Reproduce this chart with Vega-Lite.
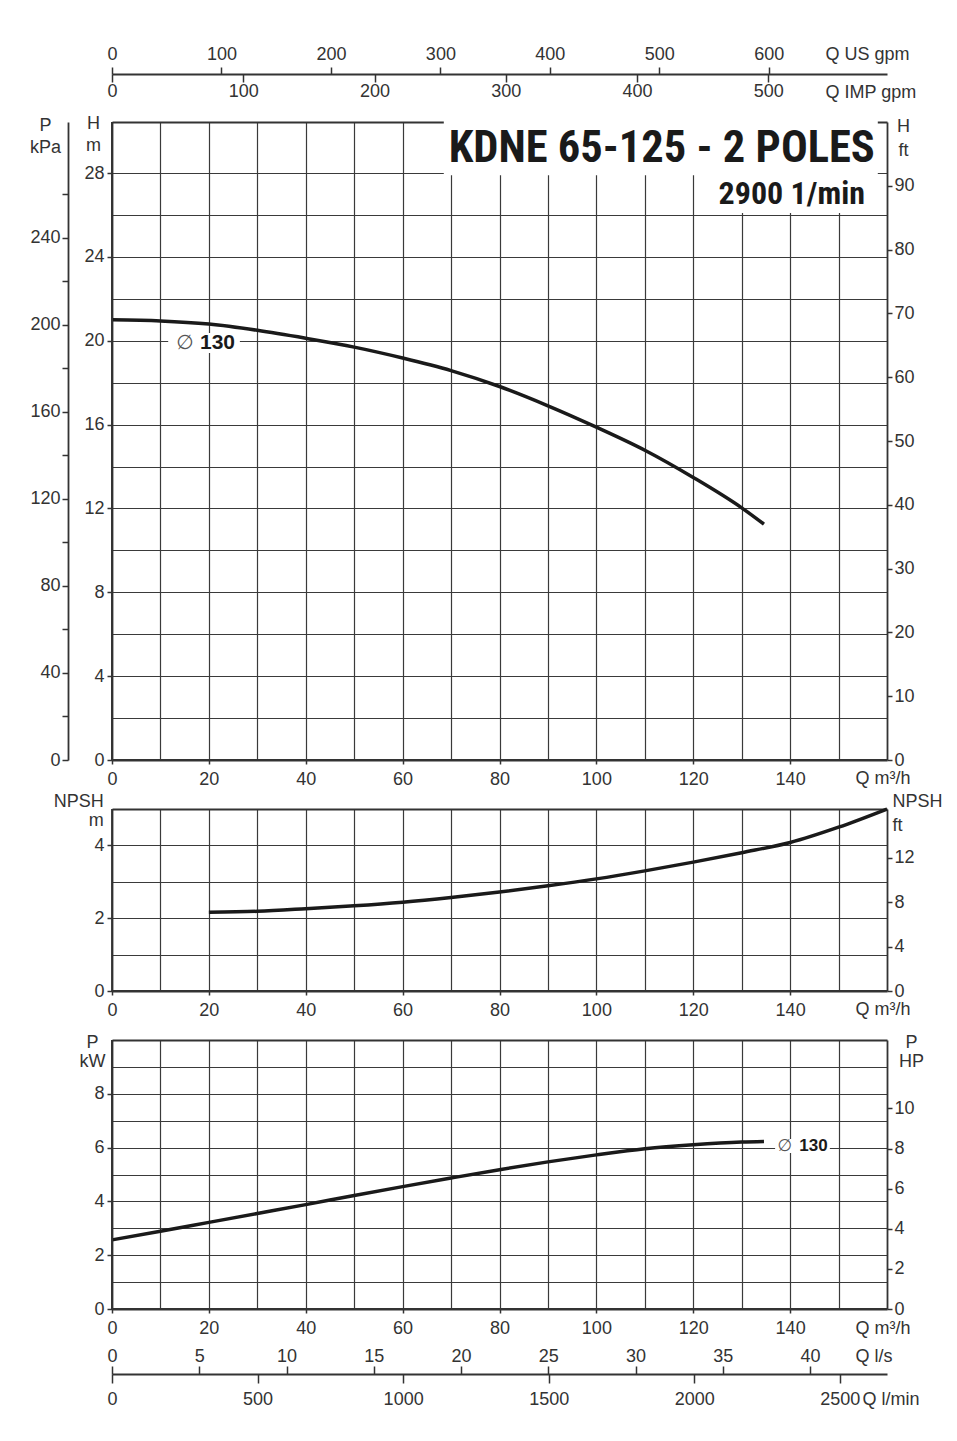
{
  "$schema": "https://vega.github.io/schema/vega-lite/v6.json",
  "background": "white",
  "padding": {"left": 29, "top": 45, "right": 5, "bottom": 5},
  "width": 775,
  "height": 1187,
  "data": {"values": [{}]},
  "config": {
    "font": "Liberation Sans, Arial, sans-serif",
    "view": {"stroke": null},
    "axis": {
      "labelFont": "Liberation Sans, Arial, sans-serif",
      "labelFontSize": 18,
      "labelColor": "#333333",
      "titleFont": "Liberation Sans, Arial, sans-serif",
      "titleFontSize": 18,
      "titleFontWeight": "normal",
      "titleColor": "#333333",
      "tickColor": "#333333",
      "tickWidth": 1.5,
      "domainColor": "#333333",
      "domainWidth": 1.8,
      "gridColor": "#3a3a3a",
      "gridWidth": 1.2,
      "gridOpacity": 1,
      "labelFlush": false,
      "labelOverlap": false,
      "labelBound": false
    }
  },
  "datasets": {
    "head": [
      {"Q": 0, "H": 21.0}, {"Q": 10, "H": 20.95}, {"Q": 20, "H": 20.8}, {"Q": 30, "H": 20.5},
      {"Q": 40, "H": 20.12}, {"Q": 50, "H": 19.7}, {"Q": 60, "H": 19.18}, {"Q": 70, "H": 18.58},
      {"Q": 80, "H": 17.82}, {"Q": 90, "H": 16.9}, {"Q": 100, "H": 15.88}, {"Q": 110, "H": 14.78},
      {"Q": 120, "H": 13.48}, {"Q": 130, "H": 12.03}, {"Q": 134.6, "H": 11.25}
    ],
    "npsh": [
      {"Q": 20, "N": 2.16}, {"Q": 30, "N": 2.19}, {"Q": 40, "N": 2.26}, {"Q": 50, "N": 2.34},
      {"Q": 60, "N": 2.44}, {"Q": 70, "N": 2.57}, {"Q": 80, "N": 2.72}, {"Q": 90, "N": 2.89},
      {"Q": 100, "N": 3.08}, {"Q": 110, "N": 3.3}, {"Q": 120, "N": 3.54}, {"Q": 130, "N": 3.8},
      {"Q": 140, "N": 4.08}, {"Q": 150, "N": 4.5}, {"Q": 160, "N": 5.0}
    ],
    "power": [
      {"Q": 0, "P": 2.57}, {"Q": 10, "P": 2.89}, {"Q": 20, "P": 3.22}, {"Q": 30, "P": 3.55},
      {"Q": 40, "P": 3.88}, {"Q": 50, "P": 4.22}, {"Q": 60, "P": 4.55}, {"Q": 70, "P": 4.87},
      {"Q": 80, "P": 5.18}, {"Q": 90, "P": 5.47}, {"Q": 100, "P": 5.73}, {"Q": 110, "P": 5.96},
      {"Q": 120, "P": 6.11}, {"Q": 130, "P": 6.21}, {"Q": 134.6, "P": 6.23}
    ]
  },
  "resolve": {"scale": {"x": "independent", "y": "independent"}},
  "layer": [
    {
      "data": {"values": [
        {"Q1": 68.5, "Q2": 158.1, "H1": 27.9, "H2": 30.6},
        {"Q1": 123.4, "Q2": 158.1, "H1": 26.1, "H2": 27.95},
        {"Q1": 11.6, "Q2": 26.4, "H1": 19.42, "H2": 20.37}
      ]},
      "mark": {"type": "rect", "color": "white"},
      "encoding": {
        "x": {"field": "Q1", "type": "quantitative", "scale": {"domain": [0, 160], "nice": false, "zero": false},
          "axis": {"values": [10, 20, 30, 40, 50, 60, 70, 80, 90, 100, 110, 120, 130, 140, 150], "orient": "top", "offset": 0, "grid": true, "labels": false, "ticks": false, "domain": true, "title": null}},
        "x2": {"field": "Q2"},
        "y": {"field": "H1", "type": "quantitative", "scale": {"domain": [0, 30.44], "range": [638, 0], "nice": false, "zero": false},
          "axis": {"values": [2, 4, 6, 8, 10, 12, 14, 16, 18, 20, 22, 24, 26, 28], "grid": true, "labels": false, "ticks": false, "domain": false, "title": null}},
        "y2": {"field": "H2"}
      }
    },
    {
      "data": {"name": "head"},
      "mark": {"type": "line", "color": "#1a1a1a", "strokeWidth": 3.5, "interpolate": "monotone"},
      "encoding": {
        "x": {"field": "Q", "type": "quantitative", "scale": {"domain": [0, 160], "nice": false, "zero": false},
          "axis": {"values": [0, 20, 40, 60, 80, 100, 120, 140], "orient": "bottom", "offset": -549, "tickSize": 4, "labelPadding": 6, "domain": true, "grid": false,
            "title": "Q m³/h", "titleAngle": 0, "titleAlign": "left", "titleBaseline": "alphabetic", "titleX": 743, "titleY": 23}},
        "y": {"field": "H", "type": "quantitative", "scale": {"domain": [0, 30.44], "range": [638, 0], "nice": false, "zero": false},
          "axis": {"values": [0, 4, 8, 12, 16, 20, 24, 28], "orient": "left", "tickSize": 5, "labelPadding": 3, "domain": true, "grid": false,
            "title": ["H", "m"], "titleAngle": 0, "titleAlign": "center", "titleBaseline": "alphabetic", "titleX": -19, "titleY": 6.3, "titleLineHeight": 22.5}}
      }
    },
    {
      "data": {"values": [{"Q": 157.5, "H": 28.52, "label": "KDNE 65-125 - 2 POLES"}]},
      "mark": {"type": "text", "font": "Liberation Sans Narrow, Roboto Condensed, DejaVu Sans Condensed, sans-serif", "fontWeight": "bold", "fontSize": 44.5, "align": "right", "baseline": "alphabetic", "color": "#1a1a1a"},
      "encoding": {
        "x": {"field": "Q", "type": "quantitative", "scale": {"domain": [0, 160], "nice": false, "zero": false}, "axis": null},
        "y": {"field": "H", "type": "quantitative", "scale": {"domain": [0, 30.44], "range": [638, 0], "nice": false, "zero": false}, "axis": null},
        "text": {"field": "label"}
      }
    },
    {
      "data": {"values": [{"Q": 155.45, "H": 26.53, "label": "2900 1/min"}]},
      "mark": {"type": "text", "font": "Liberation Sans Narrow, Roboto Condensed, DejaVu Sans Condensed, sans-serif", "fontWeight": "bold", "fontSize": 32, "align": "right", "baseline": "alphabetic", "color": "#1a1a1a"},
      "encoding": {
        "x": {"field": "Q", "type": "quantitative", "scale": {"domain": [0, 160], "nice": false, "zero": false}, "axis": null},
        "y": {"field": "H", "type": "quantitative", "scale": {"domain": [0, 30.44], "range": [638, 0], "nice": false, "zero": false}, "axis": null},
        "text": {"field": "label"}
      }
    },
    {
      "data": {"values": [{"Q": 15.07, "H": 19.88, "label": "∅"}]},
      "mark": {"type": "text", "font": "DejaVu Sans, sans-serif", "fontSize": 20, "align": "center", "baseline": "middle", "color": "#555555"},
      "encoding": {
        "x": {"field": "Q", "type": "quantitative", "scale": {"domain": [0, 160], "nice": false, "zero": false}, "axis": null},
        "y": {"field": "H", "type": "quantitative", "scale": {"domain": [0, 30.44], "range": [638, 0], "nice": false, "zero": false}, "axis": null},
        "text": {"field": "label"}
      }
    },
    {
      "data": {"values": [{"Q": 18.17, "H": 19.88, "label": "130"}]},
      "mark": {"type": "text", "font": "Liberation Sans, Arial, sans-serif", "fontWeight": "bold", "fontSize": 21, "align": "left", "baseline": "middle", "color": "#1a1a1a"},
      "encoding": {
        "x": {"field": "Q", "type": "quantitative", "scale": {"domain": [0, 160], "nice": false, "zero": false}, "axis": null},
        "y": {"field": "H", "type": "quantitative", "scale": {"domain": [0, 30.44], "range": [638, 0], "nice": false, "zero": false}, "axis": null},
        "text": {"field": "label"}
      }
    },
    {
      "mark": {"type": "rule", "color": "#333333", "strokeWidth": 1.8},
      "encoding": {
        "x": {"datum": 0, "type": "quantitative", "scale": {"domain": [0, 708], "nice": false, "zero": false},
          "axis": {"values": [0, 100, 200, 300, 400, 500, 600], "orient": "top", "offset": 48, "tickSize": 7, "labelPadding": 4, "domain": true, "grid": false,
            "title": "Q US gpm", "titleAngle": 0, "titleAlign": "left", "titleBaseline": "alphabetic", "titleX": 713, "titleY": -15}},
        "y": {"datum": 0, "type": "quantitative", "scale": {"domain": [0, 30.44], "range": [638, 0], "nice": false, "zero": false}, "axis": null},
        "y2": {"datum": 30.44}
      }
    },
    {
      "mark": {"type": "rule", "color": "#333333", "strokeWidth": 1.8},
      "encoding": {
        "x": {"datum": 0, "type": "quantitative", "scale": {"domain": [0, 590.4], "nice": false, "zero": false},
          "axis": {"values": [0, 100, 200, 300, 400, 500], "orient": "bottom", "offset": -1235, "tickSize": 8, "labelPadding": 0, "domain": false, "grid": false,
            "title": "Q IMP gpm", "titleAngle": 0, "titleAlign": "left", "titleBaseline": "alphabetic", "titleX": 713, "titleY": 23}},
        "y": {"datum": 0, "type": "quantitative", "scale": {"domain": [0, 30.44], "range": [638, 0], "nice": false, "zero": false}, "axis": null},
        "y2": {"datum": 30.44}
      }
    },
    {
      "mark": {"type": "rule", "color": "#333333", "strokeWidth": 1.8},
      "encoding": {
        "y": {"datum": 0, "type": "quantitative", "scale": {"domain": [0, 293.3], "range": [638, 0], "nice": false, "zero": false},
          "axis": {"values": [0, 20, 40, 60, 80, 100, 120, 140, 160, 180, 200, 220, 240, 260], "orient": "left", "offset": 44, "tickSize": 6, "labelPadding": 2, "domain": true, "grid": false,
            "labelExpr": "datum.value % 40 === 0 ? datum.label : ''",
            "title": ["P", "kPa"], "titleAngle": 0, "titleAlign": "center", "titleBaseline": "alphabetic", "titleX": -23, "titleY": 8, "titleLineHeight": 22.7}},
        "x": {"datum": 0, "type": "quantitative", "scale": {"domain": [0, 160], "nice": false, "zero": false}, "axis": null},
        "x2": {"datum": 160}
      }
    },
    {
      "mark": {"type": "rule", "color": "#333333", "strokeWidth": 1.8},
      "encoding": {
        "y": {"datum": 0, "type": "quantitative", "scale": {"domain": [0, 100], "range": [638, 0], "nice": false, "zero": false},
          "axis": {"values": [0, 10, 20, 30, 40, 50, 60, 70, 80, 90], "orient": "right", "tickSize": 5, "labelPadding": 2, "domain": true, "grid": false,
            "title": ["H", "ft"], "titleAngle": 0, "titleAlign": "center", "titleBaseline": "alphabetic", "titleX": 16, "titleY": 9.7, "titleLineHeight": 24.3}},
        "x": {"datum": 0, "type": "quantitative", "scale": {"domain": [0, 160], "nice": false, "zero": false}, "axis": null},
        "x2": {"datum": 160}
      }
    },
    {
      "data": {"name": "npsh"},
      "mark": {"type": "line", "color": "#1a1a1a", "strokeWidth": 3.5, "interpolate": "monotone"},
      "encoding": {
        "x": {"field": "Q", "type": "quantitative", "scale": {"domain": [0, 160], "nice": false, "zero": false},
          "axis": {"values": [0, 20, 40, 60, 80, 100, 120, 140], "orient": "bottom", "offset": -318, "tickSize": 4, "labelPadding": 6, "domain": true, "grid": false,
            "title": "Q m³/h", "titleAngle": 0, "titleAlign": "left", "titleBaseline": "alphabetic", "titleX": 743, "titleY": 23}},
        "y": {"field": "N", "type": "quantitative", "scale": {"domain": [0, 5], "range": [869, 687], "nice": false, "zero": false},
          "axis": {"values": [0, 2, 4], "orient": "left", "tickSize": 5, "labelPadding": 3, "domain": true, "grid": false,
            "title": ["NPSH", "m"], "titleAngle": 0, "titleAlign": "right", "titleBaseline": "alphabetic", "titleX": -8.7, "titleY": 684.7, "titleLineHeight": 19.3}}
      }
    },
    {
      "mark": {"type": "rule", "color": "#333333", "strokeWidth": 1.8},
      "encoding": {
        "x": {"datum": 0, "type": "quantitative", "scale": {"domain": [0, 160], "nice": false, "zero": false},
          "axis": {"values": [10, 20, 30, 40, 50, 60, 70, 80, 90, 100, 110, 120, 130, 140, 150], "orient": "top", "offset": -687, "grid": true, "labels": false, "ticks": false, "domain": true, "title": null}},
        "y": {"datum": 0, "type": "quantitative", "scale": {"domain": [0, 5], "range": [869, 687], "nice": false, "zero": false}, "axis": null},
        "y2": {"datum": 5}
      }
    },
    {
      "mark": {"type": "rule", "color": "#333333", "strokeWidth": 1.8},
      "encoding": {
        "y": {"datum": 0, "type": "quantitative", "scale": {"domain": [0, 5], "range": [869, 687], "nice": false, "zero": false},
          "axis": {"values": [1, 2, 3, 4], "grid": true, "labels": false, "ticks": false, "domain": false, "title": null}},
        "x": {"datum": 0, "type": "quantitative", "scale": {"domain": [0, 160], "nice": false, "zero": false}, "axis": null},
        "x2": {"datum": 160}
      }
    },
    {
      "mark": {"type": "rule", "color": "#333333", "strokeWidth": 1.8},
      "encoding": {
        "y": {"datum": 0, "type": "quantitative", "scale": {"domain": [0, 16.4], "range": [869, 687], "nice": false, "zero": false},
          "axis": {"values": [0, 4, 8, 12], "orient": "right", "tickSize": 5, "labelPadding": 2, "domain": true, "grid": false,
            "title": ["NPSH", "ft"], "titleAngle": 0, "titleAlign": "left", "titleBaseline": "alphabetic", "titleX": 5, "titleY": 684.7, "titleLineHeight": 24}},
        "x": {"datum": 0, "type": "quantitative", "scale": {"domain": [0, 160], "nice": false, "zero": false}, "axis": null},
        "x2": {"datum": 160}
      }
    },
    {
      "data": {"values": [{"Q1": 136.9, "Q2": 148.2, "P1": 5.8, "P2": 6.32}]},
      "mark": {"type": "rect", "color": "white"},
      "encoding": {
        "x": {"field": "Q1", "type": "quantitative", "scale": {"domain": [0, 160], "nice": false, "zero": false},
          "axis": {"values": [10, 20, 30, 40, 50, 60, 70, 80, 90, 100, 110, 120, 130, 140, 150], "orient": "top", "offset": -918, "grid": true, "labels": false, "ticks": false, "domain": true, "title": null}},
        "x2": {"field": "Q2"},
        "y": {"field": "P1", "type": "quantitative", "scale": {"domain": [0, 10], "range": [1187, 918], "nice": false, "zero": false},
          "axis": {"values": [1, 2, 3, 4, 5, 6, 7, 8, 9], "grid": true, "labels": false, "ticks": false, "domain": false, "title": null}},
        "y2": {"field": "P2"}
      }
    },
    {
      "data": {"name": "power"},
      "mark": {"type": "line", "color": "#1a1a1a", "strokeWidth": 3.5, "interpolate": "monotone"},
      "encoding": {
        "x": {"field": "Q", "type": "quantitative", "scale": {"domain": [0, 160], "nice": false, "zero": false},
          "axis": {"values": [0, 20, 40, 60, 80, 100, 120, 140], "orient": "bottom", "offset": 0, "tickSize": 4, "labelPadding": 6, "domain": true, "grid": false,
            "title": "Q m³/h", "titleAngle": 0, "titleAlign": "left", "titleBaseline": "alphabetic", "titleX": 743, "titleY": 24}},
        "y": {"field": "P", "type": "quantitative", "scale": {"domain": [0, 10], "range": [1187, 918], "nice": false, "zero": false},
          "axis": {"values": [0, 2, 4, 6, 8], "orient": "left", "tickSize": 5, "labelPadding": 3, "domain": true, "grid": false,
            "title": ["P", "kW"], "titleAngle": 0, "titleAlign": "center", "titleBaseline": "alphabetic", "titleX": -20, "titleY": 925.3, "titleLineHeight": 19.4}}
      }
    },
    {
      "data": {"values": [{"Q": 138.9, "P": 6.07, "label": "∅"}]},
      "mark": {"type": "text", "font": "DejaVu Sans, sans-serif", "fontSize": 17, "align": "center", "baseline": "middle", "color": "#555555"},
      "encoding": {
        "x": {"field": "Q", "type": "quantitative", "scale": {"domain": [0, 160], "nice": false, "zero": false}, "axis": null},
        "y": {"field": "P", "type": "quantitative", "scale": {"domain": [0, 10], "range": [1187, 918], "nice": false, "zero": false}, "axis": null},
        "text": {"field": "label"}
      }
    },
    {
      "data": {"values": [{"Q": 141.9, "P": 6.07, "label": "130"}]},
      "mark": {"type": "text", "font": "Liberation Sans, Arial, sans-serif", "fontWeight": "bold", "fontSize": 17, "align": "left", "baseline": "middle", "color": "#1a1a1a"},
      "encoding": {
        "x": {"field": "Q", "type": "quantitative", "scale": {"domain": [0, 160], "nice": false, "zero": false}, "axis": null},
        "y": {"field": "P", "type": "quantitative", "scale": {"domain": [0, 10], "range": [1187, 918], "nice": false, "zero": false}, "axis": null},
        "text": {"field": "label"}
      }
    },
    {
      "mark": {"type": "rule", "color": "#333333", "strokeWidth": 1.8},
      "encoding": {
        "x": {"datum": 0, "type": "quantitative", "scale": {"domain": [0, 44.41], "nice": false, "zero": false},
          "axis": {"values": [0, 5, 10, 15, 20, 25, 30, 35, 40], "orient": "top", "offset": -1252, "tickSize": 8, "labelPadding": 0.5, "domain": true, "grid": false,
            "title": "Q l/s", "titleAngle": 0, "titleAlign": "left", "titleBaseline": "alphabetic", "titleX": 743, "titleY": -12.3}},
        "y": {"datum": 0, "type": "quantitative", "scale": {"domain": [0, 10], "range": [1187, 918], "nice": false, "zero": false}, "axis": null},
        "y2": {"datum": 10}
      }
    },
    {
      "mark": {"type": "rule", "color": "#333333", "strokeWidth": 1.8},
      "encoding": {
        "x": {"datum": 0, "type": "quantitative", "scale": {"domain": [0, 2662], "nice": false, "zero": false},
          "axis": {"values": [0, 500, 1000, 1500, 2000, 2500], "format": "d", "orient": "bottom", "offset": 65, "tickSize": 9, "labelPadding": 7, "domain": false, "grid": false,
            "title": "Q l/min", "titleAngle": 0, "titleAlign": "left", "titleBaseline": "alphabetic", "titleX": 750, "titleY": 30}},
        "y": {"datum": 0, "type": "quantitative", "scale": {"domain": [0, 10], "range": [1187, 918], "nice": false, "zero": false}, "axis": null},
        "y2": {"datum": 10}
      }
    },
    {
      "mark": {"type": "rule", "color": "#333333", "strokeWidth": 1.8},
      "encoding": {
        "y": {"datum": 0, "type": "quantitative", "scale": {"domain": [0, 13.41], "range": [1187, 918], "nice": false, "zero": false},
          "axis": {"values": [0, 2, 4, 6, 8, 10], "orient": "right", "tickSize": 5, "labelPadding": 2, "domain": true, "grid": false,
            "title": ["P", "HP"], "titleAngle": 0, "titleAlign": "center", "titleBaseline": "alphabetic", "titleX": 24, "titleY": 925.3, "titleLineHeight": 19.4}},
        "x": {"datum": 0, "type": "quantitative", "scale": {"domain": [0, 160], "nice": false, "zero": false}, "axis": null},
        "x2": {"datum": 160}
      }
    }
  ]
}
